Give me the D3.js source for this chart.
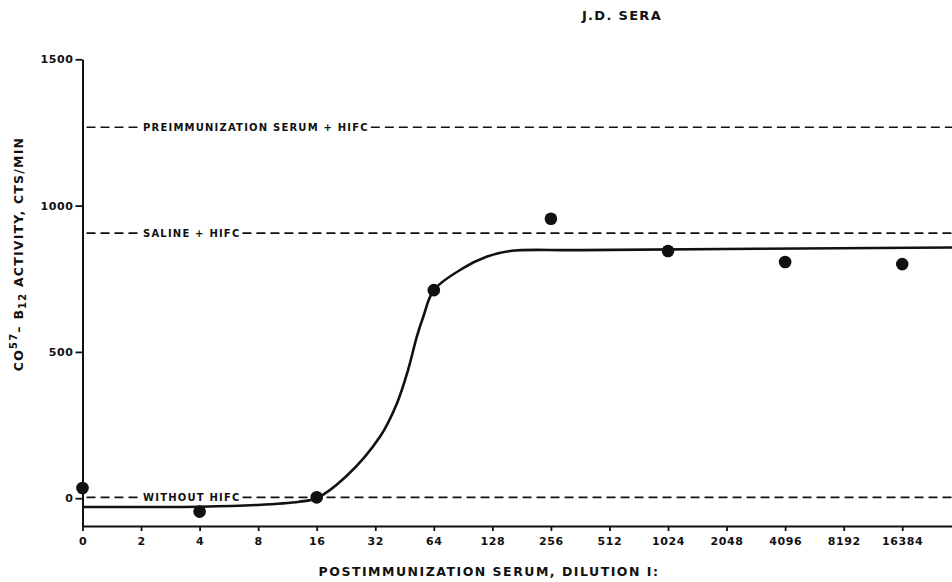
<!DOCTYPE html>
<html>
<head>
<meta charset="utf-8">
<script src="https://cdn.jsdelivr.net/npm/d3@7"></script>
<style>
  body { margin: 0; background: #fff; }
  text { font-family: "DejaVu Sans", sans-serif; font-weight: bold; fill: #111; }
</style>
</head>
<body>
<div id="chart"></div>
<script>
const svgWidth = 952;
const svgHeight = 582;

// dilution axis (1:x), one tick per doubling
const dilutionLabels = ["0", "2", "4", "8", "16", "32", "64", "128", "256", "512", "1024", "2048", "4096", "8192", "16384"];

// measured points: tick index on the dilution axis, cts/min
const pointPos = [0, 2, 4, 6, 8, 10, 12, 14];
const pointValue = [35, -46, 3, 711, 955, 845, 807, 800];

// fitted curve
const curvePos = [0, 1, 2, 3, 3.7, 4, 4.5, 5.08, 5.37, 5.56, 5.71, 5.82, 6, 6.5, 6.9, 7.3, 8.5, 14.85];
const curveValue = [-30, -30, -29, -23, -12, 0, 74, 210, 324, 438, 552, 620, 711, 786, 825, 845, 848, 857];

// dashed control levels
const refLabels = ["PREIMMUNIZATION SERUM + HIFC", "SALINE + HIFC", "WITHOUT HIFC"];
const refValues = [1268, 906, 3];

const yTicks = [0, 500, 1000, 1500];

const svg = d3.select("#chart")
  .append("svg")
  .attr("width", svgWidth)
  .attr("height", svgHeight);

const x = d3.scaleLinear()
  .domain([0, 14.85])
  .range([82.5, 952]);

const y = d3.scaleLinear()
  .domain([-95, 1500])
  .range([526, 59.3]);

// title
svg.append("text")
  .attr("x", 622)
  .attr("y", 20)
  .attr("text-anchor", "middle")
  .style("font-size", "13px")
  .style("letter-spacing", "1.3px")
  .text("J.D. SERA");

// dashed reference lines with inline labels
refValues.forEach((v, i) => {
  const yy = y(v);
  const label = svg.append("text")
    .attr("x", 143)
    .attr("y", yy + 4)
    .style("font-size", "10px")
    .style("letter-spacing", "1.2px")
    .text(refLabels[i]);
  const end = 143 + label.node().getComputedTextLength();
  [[x(0) + 4, 140], [end + 2, svgWidth]].forEach(seg => {
    svg.append("line")
      .attr("x1", seg[0]).attr("x2", seg[1])
      .attr("y1", yy).attr("y2", yy)
      .attr("stroke", "#111")
      .attr("stroke-width", 1.6)
      .attr("stroke-dasharray", "9,5");
  });
});

// axes
const xAxis = d3.axisBottom(x)
  .tickValues(d3.range(dilutionLabels.length))
  .tickFormat(i => dilutionLabels[i])
  .tickSize(5)
  .tickSizeOuter(0)
  .tickPadding(6);

const gx = svg.append("g")
  .attr("transform", `translate(0, ${y(-95)})`)
  .call(xAxis);

const yAxis = d3.axisLeft(y)
  .tickValues(yTicks)
  .tickFormat(d3.format("d"))
  .tickSize(7)
  .tickSizeOuter(0)
  .tickPadding(2);

const gy = svg.append("g")
  .attr("transform", `translate(${x(0)}, 0)`)
  .call(yAxis);

[gx, gy].forEach(g => {
  g.select(".domain").attr("stroke", "#111").attr("stroke-width", 2);
  g.selectAll(".tick line").attr("stroke", "#111").attr("stroke-width", 1.8);
  g.selectAll(".tick text")
    .attr("fill", "#111")
    .style("font-family", "'DejaVu Sans', sans-serif")
    .style("font-weight", "bold")
    .style("font-size", "11px")
    .style("letter-spacing", "0.6px");
});

// axis titles
svg.append("text")
  .attr("x", 489)
  .attr("y", 576)
  .attr("text-anchor", "middle")
  .style("font-size", "12.5px")
  .style("letter-spacing", "1.5px")
  .text("POSTIMMUNIZATION SERUM, DILUTION I:");

const yLabel = svg.append("text")
  .attr("transform", "translate(23, 254) rotate(-90)")
  .attr("text-anchor", "middle")
  .style("font-size", "12.5px")
  .style("letter-spacing", "1.2px");
yLabel.append("tspan").text("CO");
yLabel.append("tspan").attr("dy", -6).style("font-size", "10px").text("57");
yLabel.append("tspan").attr("dy", 6).text("\u2013 B");
yLabel.append("tspan").attr("dy", 3).style("font-size", "10px").text("12");
yLabel.append("tspan").attr("dy", -3).text(" ACTIVITY, CTS/MIN");

// fitted curve
const line = d3.line()
  .x(d => x(d[0]))
  .y(d => y(d[1]))
  .curve(d3.curveCatmullRom.alpha(0.5));

svg.append("path")
  .datum(curvePos.map((p, i) => [p, curveValue[i]]))
  .attr("d", line)
  .attr("fill", "none")
  .attr("stroke", "#111")
  .attr("stroke-width", 2.6);

// data points
svg.selectAll(".dot")
  .data(pointPos.map((p, i) => [p, pointValue[i]]))
  .enter()
  .append("circle")
  .attr("class", "dot")
  .attr("cx", d => x(d[0]))
  .attr("cy", d => y(d[1]))
  .attr("r", 6.3)
  .attr("fill", "#111");
</script>
</body>
</html>
